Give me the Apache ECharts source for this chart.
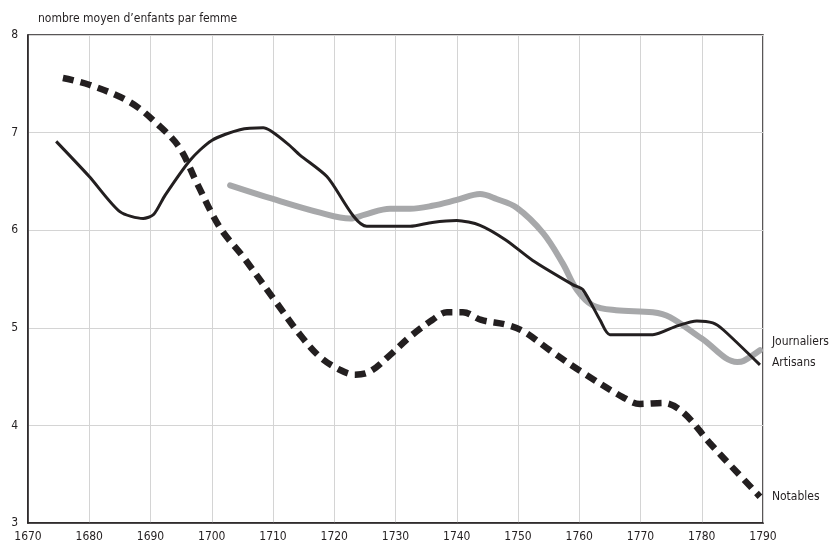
<!DOCTYPE html>
<html><head><meta charset="utf-8">
<script src="https://cdn.jsdelivr.net/npm/echarts@6/dist/echarts.min.js"></script>
<style>html,body{margin:0;padding:0;background:#fff}#c{width:838px;height:552px}</style>
</head><body><div id="c"></div>
<script>
const FONT = "'Liberation Sans Narrow','DejaVu Sans Condensed','Open Sans',sans-serif";
const titleText = "nombre moyen d\u2019enfants par femme";
const xTicks = [1670,1680,1690,1700,1710,1720,1730,1740,1750,1760,1770,1780,1790];
const yTicks = [3,4,5,6,7,8];

const artisansYears = [1674.6,1680,1685,1688.8,1690.5,1692.4,1696.5,1700,1704.6,1708.4,1712.3,1714.4,1718.8,1725.3,1732.4,1736,1740,1743.8,1748,1752.4,1759,1760.6,1763.4,1765,1772,1776,1779.2,1781.8,1783.5,1789.5];
const artisansVals  = [6.91,6.55,6.19,6.12,6.16,6.36,6.72,6.92,7.03,7.05,6.89,6.77,6.55,6.04,6.04,6.08,6.10,6.05,5.9,5.69,5.44,5.39,5.08,4.93,4.93,5.02,5.07,5.05,4.98,4.62];

const journaliersYears = [1703,1710,1717.7,1722.6,1725,1729.1,1732.4,1736,1740,1743.8,1746.5,1749.8,1754.1,1757.3,1759.6,1762.2,1766,1772,1774.8,1780,1785.8,1786.8,1789.5];
const journaliersVals  = [6.46,6.32,6.18,6.12,6.16,6.22,6.22,6.25,6.31,6.37,6.32,6.23,5.97,5.66,5.39,5.23,5.18,5.16,5.11,4.89,4.65,4.66,4.77];

const notablesYears = [1675.7,1680,1686.7,1691.6,1694.8,1697.6,1701.3,1705.1,1710.3,1714.4,1717.7,1720.9,1723.4,1725.8,1729.1,1732.4,1736,1738.4,1741,1744,1748.2,1751,1755.2,1760.6,1767.1,1769.9,1773.7,1777,1781.3,1785,1789.5];
const notablesVals  = [7.56,7.49,7.31,7.06,6.84,6.48,6.03,5.73,5.28,4.93,4.70,4.57,4.52,4.55,4.72,4.91,5.08,5.16,5.16,5.08,5.03,4.96,4.77,4.54,4.29,4.22,4.23,4.13,3.82,3.57,3.27];

function zip(a,b){return a.map((v,i)=>[v,b[i]]);}

const chart = echarts.init(document.getElementById('c'));
chart.setOption({
  animation:false,
  backgroundColor:'#fff',
  title:{text:titleText,left:33,top:8,textStyle:{fontFamily:FONT,fontSize:12,fontWeight:'normal',color:'#231f20'}},
  grid:{left:28,right:75,top:35,bottom:29,show:true,borderColor:'#231f20',borderWidth:1.5,backgroundColor:'transparent'},
  xAxis:{type:'value',min:1670,max:1790,interval:10,
    axisLine:{show:true,lineStyle:{color:'#231f20',width:1.5}},
    axisTick:{show:false},
    axisLabel:{fontFamily:FONT,fontSize:12,color:'#231f20',margin:8,formatter:v=>xTicks.includes(v)?String(v):''},
    splitLine:{show:true,lineStyle:{color:'#d4d4d4',width:1}}},
  yAxis:{type:'value',min:3,max:8,interval:1,
    axisLine:{show:true,lineStyle:{color:'#231f20',width:1.5}},
    axisTick:{show:false},
    axisLabel:{fontFamily:FONT,fontSize:12,color:'#231f20',margin:10,formatter:v=>yTicks.includes(v)?String(v):''},
    splitLine:{show:true,lineStyle:{color:'#d4d4d4',width:1}}},
  series:[
    {name:'Journaliers',type:'line',data:zip(journaliersYears,journaliersVals),smooth:0.35,showSymbol:false,
      lineStyle:{color:'#a7a8aa',width:6,cap:'round'},z:2,
      endLabel:{show:true,formatter:'Journaliers',fontFamily:FONT,fontSize:12,color:'#231f20',distance:12,offset:[0,-8]}},
    {name:'Artisans',type:'line',data:zip(artisansYears,artisansVals),smooth:0.25,showSymbol:false,
      lineStyle:{color:'#231f20',width:3},z:3,
      endLabel:{show:true,formatter:'Artisans',fontFamily:FONT,fontSize:12,color:'#231f20',distance:12,offset:[0,-2]}},
    {name:'Notables',type:'line',data:zip(notablesYears,notablesVals),smooth:0.35,showSymbol:false,
      lineStyle:{color:'#231f20',width:6.5,type:[11,7]},z:4,
      endLabel:{show:true,formatter:'Notables',fontFamily:FONT,fontSize:12,color:'#231f20',distance:12,offset:[0,0]}}
  ]
});
</script></body></html>
